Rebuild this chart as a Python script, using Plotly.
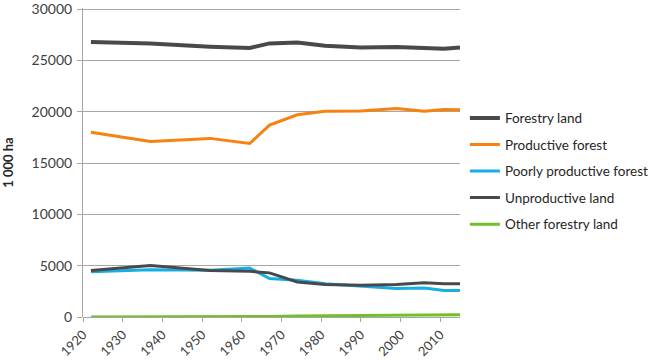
import plotly.graph_objects as go

years = [1922, 1937, 1952, 1962, 1967, 1974, 1981, 1990, 1999, 2006, 2011, 2015]
forestry_land = [26800, 26650, 26330, 26200, 26650, 26750, 26420, 26260, 26300, 26200, 26130, 26250]
productive_forest = [18000, 17100, 17400, 16900, 18700, 19700, 20050, 20060, 20310, 20050, 20220, 20200]
poorly_productive = [4400, 4600, 4550, 4780, 3740, 3570, 3250, 3020, 2780, 2830, 2580, 2580]
unproductive_land = [4520, 5020, 4520, 4450, 4300, 3410, 3160, 3100, 3160, 3340, 3250, 3250]
other_forestry = [0, 0, 0, 0, 50, 100, 120, 150, 170, 200, 220, 230]

series = [
    ("Forestry land", forestry_land, "#48494b", 4),
    ("Productive forest", productive_forest, "#f7820f", 3),
    ("Poorly productive forest", poorly_productive, "#17afe3", 3),
    ("Unproductive land", unproductive_land, "#48494b", 3),
    ("Other forestry land", other_forestry, "#72bf26", 3),
]

fig = go.Figure()
for i, (name, vals, color, w) in enumerate(series):
    fig.add_trace(go.Scatter(x=years, y=vals, name=name, mode="lines",
                             line=dict(color=color, width=w),
                             legendgroup=f"g{i}"))

grid = "#a6a6a6"
fig.update_layout(
    width=650, height=361,
    margin=dict(l=83, r=190, t=8, b=44, autoexpand=False),
    paper_bgcolor="white", plot_bgcolor="white",
    font=dict(family="Lato", size=13, color="#404040"),
    showlegend=True,
    legend=dict(x=1.013, y=0.472, yanchor="middle", xanchor="left",
                font=dict(family="Lato", size=13.5, color="#262626"),
                tracegroupgap=6, bgcolor="rgba(0,0,0,0)"),
    xaxis=dict(range=[1920, 2015], tickmode="array",
               tickvals=list(range(1920, 2011, 10)),
               ticktext=[str(v) for v in range(1920, 2011, 10)],
               tickangle=-45, ticks="outside", ticklen=4, tickcolor=grid,
               showgrid=False, zeroline=False, showline=False, automargin=False,
               ticklabeloverflow="allow",
               tickfont=dict(family="Lato", size=13, color="#404040")),
    yaxis=dict(range=[0, 30100], tickmode="array",
               tickvals=[0, 5000, 10000, 15000, 20000, 25000, 30000],
               ticktext=["0", "5000", "10000", "15000", "20000", "25000", "30000"],
               showgrid=True, gridcolor=grid, gridwidth=1,
               zeroline=True, zerolinecolor=grid, zerolinewidth=1,
               showline=True, linecolor=grid, linewidth=1, automargin=False,
               ticks="outside", ticklen=5, tickcolor=grid,
               ticklabelstandoff=2, ticklabeloverflow="allow",
               tickfont=dict(family="Lato", size=14, color="#404040"),
               title=dict(text="<b>1 000 ha</b>", standoff=16,
                          font=dict(family="Lato", size=13, color="#262626"))),
)

fig.write_html("out.html", config={"displayModeBar": False},
               post_script="document.body.style.margin='0';document.body.style.overflow='hidden';")
